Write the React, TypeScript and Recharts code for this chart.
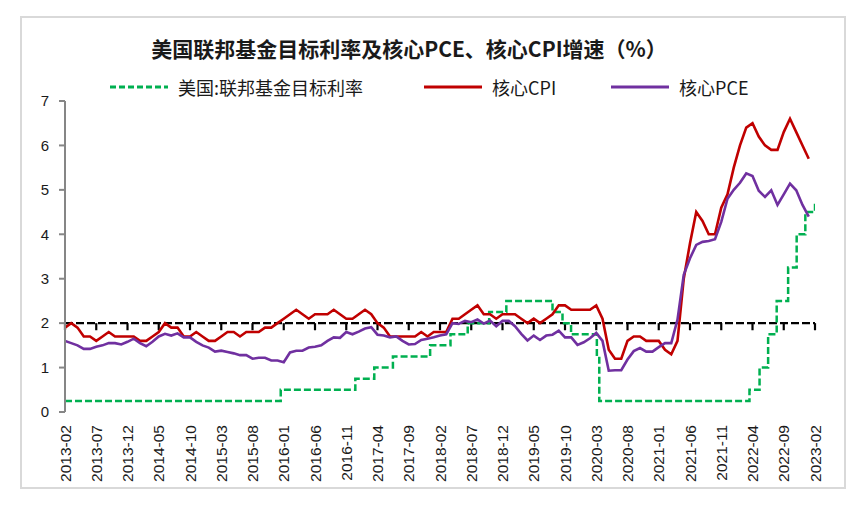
import React from "react";
import { LineChart, Line, XAxis, YAxis, ReferenceLine } from "recharts";

// tick labels along the bottom, every 5 months
const xTickLabels = [
  "2013-02", "2013-07", "2013-12", "2014-05", "2014-10", "2015-03", "2015-08",
  "2016-01", "2016-06", "2016-11", "2017-04", "2017-09", "2018-02", "2018-07",
  "2018-12", "2019-05", "2019-10", "2020-03", "2020-08", "2021-01", "2021-06",
  "2021-11", "2022-04", "2022-09", "2023-02",
];
const yTicks = [0, 1, 2, 3, 4, 5, 6, 7];
const targetLevel = 2;

// monthly YoY, first value = 2013-01 (plotted at month end)
const firstMonth = "2013-01";
const coreCpi = [
  1.9, 2.0, 1.9, 1.7, 1.7, 1.6, 1.7, 1.8, 1.7, 1.7, 1.7, 1.7,
  1.6, 1.6, 1.7, 1.8, 2.0, 1.9, 1.9, 1.7, 1.7, 1.8, 1.7, 1.6,
  1.6, 1.7, 1.8, 1.8, 1.7, 1.8, 1.8, 1.8, 1.9, 1.9, 2.0, 2.1,
  2.2, 2.3, 2.2, 2.1, 2.2, 2.2, 2.2, 2.3, 2.2, 2.1, 2.1, 2.2,
  2.3, 2.2, 2.0, 1.9, 1.7, 1.7, 1.7, 1.7, 1.7, 1.8, 1.7, 1.8,
  1.8, 1.8, 2.1, 2.1, 2.2, 2.3, 2.4, 2.2, 2.2, 2.1, 2.2, 2.2,
  2.2, 2.1, 2.0, 2.1, 2.0, 2.1, 2.2, 2.4, 2.4, 2.3, 2.3, 2.3,
  2.3, 2.4, 2.1, 1.4, 1.2, 1.2, 1.6, 1.7, 1.7, 1.6, 1.6, 1.6,
  1.4, 1.3, 1.6, 3.0, 3.8, 4.5, 4.3, 4.0, 4.0, 4.6, 4.9, 5.5,
  6.0, 6.4, 6.5, 6.2, 6.0, 5.9, 5.9, 6.3, 6.6, 6.3, 6.0, 5.7,
];
const corePce = [
  1.6, 1.55, 1.5, 1.42, 1.42, 1.47, 1.5, 1.55, 1.55, 1.52, 1.58, 1.65,
  1.55, 1.48, 1.58, 1.7, 1.76, 1.72, 1.77, 1.68, 1.68, 1.58, 1.5, 1.45,
  1.36, 1.38, 1.35, 1.32, 1.28, 1.28, 1.2, 1.22, 1.22, 1.16, 1.16, 1.12,
  1.34, 1.38, 1.38, 1.45, 1.47, 1.5, 1.6, 1.68, 1.67, 1.8, 1.75, 1.81,
  1.88, 1.91, 1.74, 1.72, 1.68, 1.7, 1.6, 1.52, 1.53, 1.62, 1.65, 1.68,
  1.72, 1.75, 2.0, 1.98, 2.05, 2.02, 2.08, 1.99, 2.06, 1.93, 2.05, 2.05,
  1.93, 1.76, 1.61, 1.72, 1.62, 1.72, 1.74, 1.83, 1.68, 1.68, 1.51, 1.57,
  1.66, 1.78, 1.6, 0.93, 0.94, 0.94, 1.18, 1.37, 1.44, 1.36, 1.36, 1.46,
  1.55, 1.55, 2.08, 3.09, 3.46, 3.76, 3.83, 3.85, 3.89, 4.28, 4.8, 5.0,
  5.16, 5.37, 5.31, 4.98, 4.84, 4.99, 4.66, 4.9, 5.14, 4.99, 4.66, 4.4,
];

// fed funds target (upper bound), date of each change
const fedDates = [
  "2013-02-01", "2015-12-17", "2016-12-15", "2017-03-16", "2017-06-15",
  "2017-12-14", "2018-03-22", "2018-06-14", "2018-09-27", "2018-12-20",
  "2019-08-01", "2019-09-19", "2019-10-31", "2020-03-04", "2020-03-16",
  "2022-03-17", "2022-05-05", "2022-06-16", "2022-07-28", "2022-09-22",
  "2022-11-03", "2022-12-15", "2023-02-01",
];
const fedRates = [
  0.25, 0.5, 0.75, 1.0, 1.25, 1.5, 1.75, 2.0, 2.25, 2.5, 2.25, 2.0, 1.75,
  1.25, 0.25, 0.5, 1.0, 1.75, 2.5, 3.25, 4.0, 4.5, 4.75,
];

const RED = "#c00000";
const PURPLE = "#7030a0";
const GREEN = "#00b050";
const LATIN = "'Liberation Sans', Arial, sans-serif";
const CJK = "'Noto Sans CJK SC', 'Liberation Sans', sans-serif";

// months since 2013-02-01 (fractional for a day)
const toX = (s: string) => {
  const [y, m, d] = s.split("-").map(Number);
  const base = (y - 2013) * 12 + (m - 2);
  if (!d) return base;
  const days = new Date(y, m, 0).getDate();
  return base + (d - 1) / days;
};

const cpiData = coreCpi.map((v, i) => ({ x: toX(firstMonth) + 1 + i, v }));
const pceData = corePce.map((v, i) => ({ x: toX(firstMonth) + 1 + i, v }));
const fedData = fedDates.map((d, i) => ({ x: toX(d), v: fedRates[i] }));
const xTicks = xTickLabels.map(toX);
const labelAt = new Map(xTicks.map((t, i) => [t, xTickLabels[i]]));

const XTick = ({ x, y, payload }: any) => (
  <text
    x={x}
    y={y}
    transform={`rotate(-90 ${x} ${y})`}
    textAnchor="end"
    dy="0.36em"
    fontFamily={LATIN}
    fontSize={15.5}
    fill="#1a1a1a"
  >
    {labelAt.get(payload.value)}
  </text>
);

const LegendItem = ({ left, color, dashed, label }: any) => (
  <div style={{ position: "absolute", left, top: 76, height: 22, display: "flex", alignItems: "center" }}>
    <svg width={60} height={6} style={{ marginRight: 8 }}>
      <line x1={0} y1={3} x2={58} y2={3} stroke={color} strokeWidth={3.2} strokeDasharray={dashed ? "6 3" : undefined} />
    </svg>
    <span style={{ fontFamily: CJK, fontSize: 18, color: "#1a1a1a", lineHeight: "22px" }}>{label}</span>
  </div>
);

export default function App() {
  return (
    <div style={{ position: "absolute", left: 0, top: 0, width: 865, height: 507, background: "#fff" }}>
      <div
        style={{
          position: "absolute",
          left: 20,
          top: 16,
          width: 822,
          height: 469,
          border: "2px solid #d9d9d9",
        }}
      />
      <div
        style={{
          position: "absolute",
          left: 0,
          width: 818,
          top: 35,
          textAlign: "center",
          fontFamily: CJK,
          fontWeight: 700,
          fontSize: 21,
          lineHeight: "26px",
          color: "#1a1a1a",
        }}
      >
        美国联邦基金目标利率及核心PCE、核心CPI增速（%）
      </div>
      <LegendItem left={110} color={GREEN} dashed label="美国:联邦基金目标利率" />
      <LegendItem left={424} color={RED} label="核心CPI" />
      <LegendItem left={611} color={PURPLE} label="核心PCE" />

      <div style={{ position: "absolute", left: 0, top: 0 }}>
        <LineChart width={865} height={507} margin={{ top: 101, right: 50, bottom: 0, left: 25 }}>
          <XAxis
            type="number"
            dataKey="x"
            domain={[0, 120]}
            ticks={xTicks}
            interval={0}
            height={95}
            axisLine={false}
            tickLine={false}
            tickSize={0}
            tickMargin={13}
            tick={<XTick />}
            allowDataOverflow
          />
          <YAxis
            type="number"
            domain={[0, 7]}
            ticks={yTicks}
            width={40}
            axisLine={{ stroke: "#868686", strokeWidth: 2 }}
            tickLine={{ stroke: "#868686", strokeWidth: 2 }}
            tickSize={6}
            tickMargin={10}
            tick={{ fontFamily: LATIN, fontSize: 15, fill: "#1a1a1a" }}
          />
          <ReferenceLine y={targetLevel} stroke="#000" strokeWidth={2.2} strokeDasharray="8 3" />
          {xTicks.map((t) => (
            <ReferenceLine
              key={t}
              segment={[{ x: t, y: targetLevel }, { x: t, y: targetLevel - 0.16 }]}
              stroke="#000"
              strokeWidth={2.2}
            />
          ))}
          <Line
            data={fedData}
            dataKey="v"
            type="stepAfter"
            stroke={GREEN}
            strokeWidth={2.5}
            strokeDasharray="7 3"
            dot={false}
            isAnimationActive={false}
          />
          <Line
            data={cpiData}
            dataKey="v"
            type="linear"
            stroke={RED}
            strokeWidth={2.6}
            dot={false}
            isAnimationActive={false}
          />
          <Line
            data={pceData}
            dataKey="v"
            type="linear"
            stroke={PURPLE}
            strokeWidth={2.6}
            dot={false}
            isAnimationActive={false}
          />
        </LineChart>
      </div>
    </div>
  );
}
